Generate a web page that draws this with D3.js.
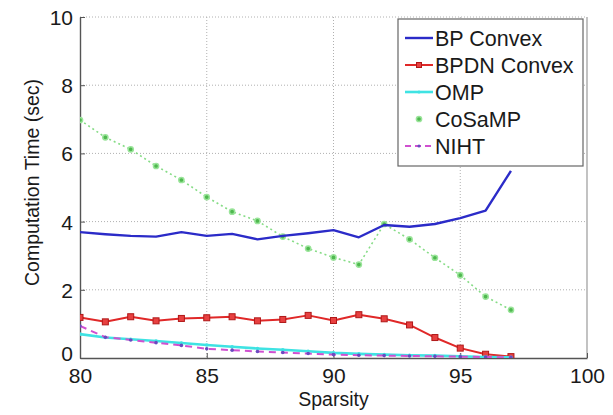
<!DOCTYPE html>
<html>
<head>
<meta charset="utf-8">
<script src="https://cdn.jsdelivr.net/npm/d3@7"></script>
<style>
  html, body { margin: 0; padding: 0; background: #fff; }
  svg { display: block; font-family: "Liberation Sans", Arial, Helvetica, sans-serif; }
</style>
</head>
<body>
<svg id="chart" width="613" height="415"></svg>
<script>
// Sparsity levels on the x axis
const sparsity = [80, 81, 82, 83, 84, 85, 86, 87, 88, 89, 90, 91, 92, 93, 94, 95, 96, 97];

// Computation time (sec) for each algorithm
const bpConvex   = [3.69, 3.63, 3.58, 3.56, 3.69, 3.58, 3.64, 3.48, 3.58, 3.66, 3.75, 3.54, 3.90, 3.85, 3.93, 4.10, 4.32, 5.49];
const bpdnConvex = [1.19, 1.06, 1.21, 1.09, 1.16, 1.18, 1.21, 1.09, 1.13, 1.25, 1.10, 1.27, 1.15, 0.97, 0.60, 0.29, 0.11, 0.04];
const omp        = [0.70, 0.60, 0.55, 0.50, 0.44, 0.38, 0.33, 0.28, 0.24, 0.20, 0.15, 0.12, 0.10, 0.08, 0.07, 0.05, 0.03, 0.02];
const cosamp     = [6.98, 6.47, 6.12, 5.63, 5.22, 4.72, 4.29, 4.02, 3.56, 3.21, 2.95, 2.74, 3.93, 3.48, 2.94, 2.43, 1.80, 1.41];
const niht       = [0.94, 0.61, 0.53, 0.45, 0.37, 0.27, 0.23, 0.19, 0.16, 0.13, 0.10, 0.08, 0.07, 0.06, 0.05, 0.04, 0.03, 0.02];

const xTicks = [80, 85, 90, 95, 100];
const yTicks = [0, 2, 4, 6, 8, 10];
const xLabel = "Sparsity";
const yLabel = "Computation Time (sec)";

const series = [
  { name: "BP Convex",   values: bpConvex,   color: "#2b2bc8", width: 2.4, dash: null,  marker: null },
  { name: "BPDN Convex", values: bpdnConvex, color: "#e02828", width: 2.0, dash: null,  marker: "square" },
  { name: "OMP",         values: omp,        color: "#3fe3e3", width: 2.6, dash: null,  marker: "dot" },
  { name: "CoSaMP",      values: cosamp,     color: "#86dc86", width: 1.6, dash: "2,3", marker: "circle" },
  { name: "NIHT",        values: niht,       color: "#d050d0", width: 2.0, dash: "7,5", marker: "dot" }
];

const svg = d3.select("#chart");
const plot = { left: 80, right: 587, top: 17, bottom: 358 };

const x = d3.scaleLinear().domain([80, 100]).range([plot.left, plot.right]);
const y = d3.scaleLinear().domain([0, 10]).range([plot.bottom, plot.top]);

// Dotted grid
const grid = svg.append("g");
grid.selectAll("line.gx").data(xTicks.slice(1, -1)).enter().append("line")
  .attr("x1", d => x(d)).attr("x2", d => x(d))
  .attr("y1", plot.top).attr("y2", plot.bottom)
  .attr("stroke", "#b0b0b0").attr("stroke-width", 1).attr("stroke-dasharray", "1,2");
grid.selectAll("line.gy").data(yTicks.slice(1)).enter().append("line")
  .attr("x1", plot.left).attr("x2", plot.right)
  .attr("y1", d => y(d)).attr("y2", d => y(d))
  .attr("stroke", "#b0b0b0").attr("stroke-width", 1).attr("stroke-dasharray", "1,2");

// Right frame edge
svg.append("line")
  .attr("x1", plot.right).attr("x2", plot.right)
  .attr("y1", plot.top).attr("y2", plot.bottom)
  .attr("stroke", "#9a9a9a").attr("stroke-width", 1.2);

// Axes
const xAxis = d3.axisBottom(x).tickValues(xTicks).tickSizeInner(-5).tickSizeOuter(0).tickPadding(10);
const yAxis = d3.axisLeft(y).tickValues(yTicks).tickSizeInner(-5).tickSizeOuter(0).tickPadding(7);

const gx = svg.append("g").attr("transform", `translate(0,${plot.bottom})`).call(xAxis);
const gy = svg.append("g").attr("transform", `translate(${plot.left},0)`).call(yAxis);
[gx, gy].forEach(g => {
  g.select(".domain").attr("stroke", "#555").attr("stroke-width", 1.4);
  g.selectAll(".tick line").attr("stroke", "#555");
  g.selectAll(".tick text").attr("fill", "#1a1a1a").style("font-size", "21px")
    .style("font-family", "'Liberation Sans', Arial, sans-serif");
});
// The zero label sits a little higher so it clears the "80" below it
gy.selectAll(".tick text").attr("dy", d => d === 0 ? "0.12em" : "0.36em");

// Axis titles
svg.append("text").attr("x", (plot.left + plot.right) / 2).attr("y", 406)
  .attr("text-anchor", "middle").attr("fill", "#1a1a1a").style("font-size", "19.5px").text(xLabel);
svg.append("text")
  .attr("transform", `translate(39,${(plot.top + plot.bottom) / 2 - 5}) rotate(-90)`)
  .attr("text-anchor", "middle").attr("fill", "#1a1a1a").style("font-size", "19.5px").text(yLabel);

// Series lines and markers
svg.append("clipPath").attr("id", "plotclip").append("rect")
  .attr("x", plot.left).attr("y", plot.top)
  .attr("width", plot.right - plot.left).attr("height", plot.bottom - plot.top);

const layer = svg.append("g").attr("clip-path", "url(#plotclip)");
const line = d3.line().x((d, i) => x(sparsity[i])).y(d => y(d));

function drawMarker(g, s, cx, cy, size) {
  if (s.marker === "square") {
    g.append("rect").attr("x", cx - size).attr("y", cy - size)
      .attr("width", size * 2).attr("height", size * 2)
      .attr("fill", "#e84040").attr("stroke", "#b01818").attr("stroke-width", 1);
  } else if (s.marker === "circle") {
    g.append("circle").attr("cx", cx).attr("cy", cy).attr("r", size)
      .attr("fill", "#4fb84f").attr("stroke", "#9ae49a").attr("stroke-width", 1.5);
  } else if (s.marker === "dot") {
    g.append("circle").attr("cx", cx).attr("cy", cy).attr("r", size * 0.6)
      .attr("fill", s.name === "NIHT" ? "#6a4ac0" : s.color);
  }
}

const drawOrder = [3, 0, 1, 2, 4];
drawOrder.forEach(k => {
  const s = series[k];
  layer.append("path").datum(s.values)
    .attr("fill", "none").attr("stroke", s.color).attr("stroke-width", s.width)
    .attr("stroke-dasharray", s.dash).attr("stroke-linejoin", "round")
    .attr("d", line);
  const mg = layer.append("g");
  s.values.forEach((v, i) => drawMarker(mg, s, x(sparsity[i]), y(v), s.marker === "circle" ? 2.6 : 3));
});

// Legend
const legend = svg.append("g");
const lx = 398, ly = 19, lw = 185, lh = 147;
legend.append("rect").attr("x", lx).attr("y", ly).attr("width", lw).attr("height", lh)
  .attr("fill", "#fff").attr("stroke", "#666").attr("stroke-width", 1.2);
series.forEach((s, i) => {
  const cy = 38 + i * 27;
  legend.append("line").attr("x1", lx + 7).attr("x2", lx + 35).attr("y1", cy).attr("y2", cy)
    .attr("stroke", s.color).attr("stroke-width", s.width)
    .attr("stroke-dasharray", s.dash ? (s.name === "CoSaMP" ? "0,30" : "6,4") : null);
  drawMarker(legend, s, lx + 21, cy, s.marker === "square" ? 2.5 : 2.6);
  legend.append("text").attr("x", lx + 37).attr("y", cy).attr("dy", "0.36em")
    .attr("fill", "#1a1a1a").style("font-size", "21.5px").text(s.name);
});
</script>
</body>
</html>
